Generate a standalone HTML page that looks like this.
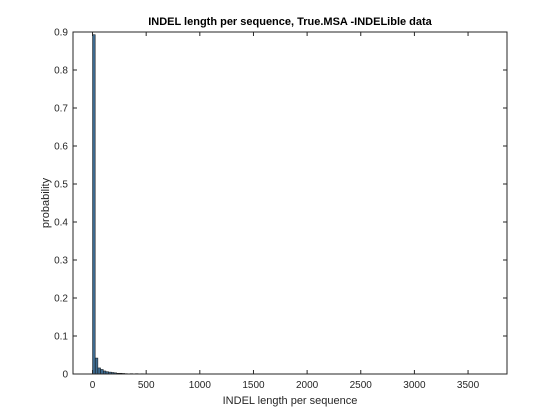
<!DOCTYPE html>
<html><head><meta charset="utf-8"><style>
body{margin:0;background:#fff;}
svg{display:block;font-family:"Liberation Sans",Arial,sans-serif;}
</style></head><body>
<svg id="chart" width="560" height="420" viewBox="0 0 560 420">
<rect x="0" y="0" width="560" height="420" fill="#ffffff"/>
<rect x="73" y="32" width="434" height="342" fill="#ffffff"/>
<g id="bars"></g>
<g id="axes"></g>
<text x="290" y="25" text-anchor="middle" font-size="11" font-weight="bold" fill="#000">INDEL length per sequence, True.MSA -INDELible data</text>
<text x="290" y="404" text-anchor="middle" font-size="11" fill="#262626">INDEL length per sequence</text>
<text transform="translate(49,203) rotate(-90)" text-anchor="middle" font-size="11" fill="#262626">probability</text>
</svg>
<script>
const binStarts=[0,25,50,75,100,125,150,175,200,225,250,275,300,350,400,450,500,600,700,800,1000,1200];
const probs=[0.893,0.042,0.016,0.012,0.008,0.006,0.005,0.004,0.003,0.002,0.002,0.0015,0.001,0.001,0.001,0.0008,0.0006,0.0005,0.0004,0.0003,0.0002,0.0002];
const binWidth=25;
const xTicks=[0,500,1000,1500,2000,2500,3000,3500];
const yTicks=[0,0.1,0.2,0.3,0.4,0.5,0.6,0.7,0.8,0.9];
const yTickLabels=["0","0.1","0.2","0.3","0.4","0.5","0.6","0.7","0.8","0.9"];
const L=73,R=507,T=32,B=374,xmin=-182,xmax=3863,ymin=0,ymax=0.9;
const xs=v=>L+(v-xmin)/(xmax-xmin)*(R-L);
const ys=v=>B-(v-ymin)/(ymax-ymin)*(B-T);
const NS="http://www.w3.org/2000/svg";
const bars=document.getElementById('bars'),axes=document.getElementById('axes');
binStarts.forEach((s,i)=>{
 const r=document.createElementNS(NS,'rect');
 const x0=xs(s),x1=xs(s+binWidth);
 r.setAttribute('x',x0);r.setAttribute('width',Math.max(x1-x0,0.5));
 r.setAttribute('y',ys(probs[i]));r.setAttribute('height',B-ys(probs[i]));
 r.setAttribute('fill','#3d6a8f');r.setAttribute('stroke','#111');r.setAttribute('stroke-width','0.5');
 
 
 bars.appendChild(r);
});
const box=document.createElementNS(NS,'rect');
box.setAttribute('x',L);box.setAttribute('y',T);box.setAttribute('width',R-L);box.setAttribute('height',B-T);
box.setAttribute('fill','none');box.setAttribute('stroke','#262626');box.setAttribute('stroke-width','1');


axes.appendChild(box);
function line(x1,y1,x2,y2,n){const l=document.createElementNS(NS,'line');l.setAttribute('x1',x1);l.setAttribute('y1',y1);l.setAttribute('x2',x2);l.setAttribute('y2',y2);l.setAttribute('stroke','#262626');l.setAttribute('stroke-width','1');
 
 
 axes.appendChild(l);}
function text(x,y,s,a,n){const t=document.createElementNS(NS,'text');t.setAttribute('x',x);t.setAttribute('y',y);t.setAttribute('text-anchor',a);t.setAttribute('font-size','10');t.setAttribute('fill','#262626');t.textContent=s;
 
 
 axes.appendChild(t);}
xTicks.forEach(v=>{const x=xs(v);line(x,B,x,B-4,'x-tick');line(x,T,x,T+4,'x-tick-top');text(x,B+14,String(v),'middle','x-tick-label');});
yTicks.forEach((v,i)=>{const y=ys(v);line(L,y,L+4,y,'y-tick');line(R,y,R-4,y,'y-tick-right');text(L-5,y+3.5,yTickLabels[i],'end','y-tick-label');});
</script>
</body></html>
